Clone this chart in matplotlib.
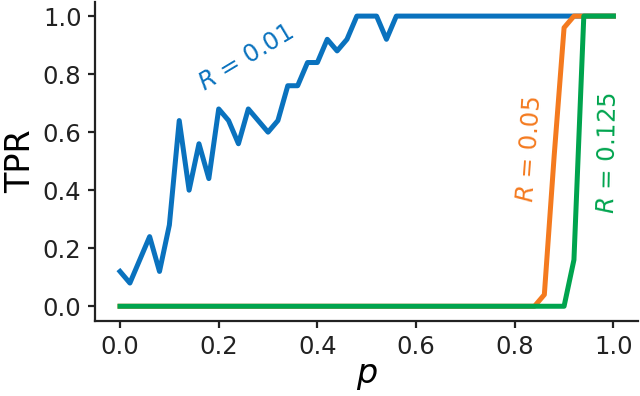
import numpy as np
import matplotlib
matplotlib.use("Agg")
import matplotlib.pyplot as plt

# p grid (step 0.02) and TPR for R = 0.01
p_blue = np.round(np.arange(0, 1.001, 0.02), 2)
tpr_blue = [0.12, 0.08, 0.16, 0.24, 0.12, 0.28, 0.64, 0.40, 0.56, 0.44,
            0.68, 0.64, 0.56, 0.68, 0.64, 0.60, 0.64, 0.76, 0.76, 0.84,
            0.84, 0.92, 0.88, 0.92, 1.00, 1.00, 1.00, 0.92, 1.00, 1.00,
            1.00, 1.00, 1.00, 1.00, 1.00, 1.00, 1.00, 1.00, 1.00, 1.00,
            1.00, 1.00, 1.00, 1.00, 1.00, 1.00, 1.00, 1.00, 1.00, 1.00,
            1.00]

# R = 0.05 and R = 0.125 (breakpoints only, flat elsewhere)
p_orange = [0.0, 0.84, 0.86, 0.88, 0.90, 0.92, 1.0]
tpr_orange = [0.0, 0.0, 0.04, 0.52, 0.96, 1.0, 1.0]
p_green = [0.0, 0.90, 0.92, 0.94, 1.0]
tpr_green = [0.0, 0.0, 0.16, 1.0, 1.0]

ticks = [0.0, 0.2, 0.4, 0.6, 0.8, 1.0]

blue = '#0A72BE'
orange = '#F47A1F'
green = '#00A44E'

plt.rcParams['mathtext.fontset'] = 'dejavusans'

fig = plt.figure(figsize=(6.4, 3.96), dpi=100)
ax = fig.add_axes([0.149, 0.19, 0.848, 0.806])

ax.plot(p_blue, tpr_blue, color=blue, lw=3.6)
ax.plot(p_orange, tpr_orange, color=orange, lw=3.6)
ax.plot(p_green, tpr_green, color=green, lw=3.6)

ax.text(0.255, 0.855, r'$R$ = 0.01', color=blue, fontsize=17.5,
        rotation=31, ha='center', va='center')
ax.text(0.83, 0.54, r'$R$ = 0.05', color=orange, fontsize=17.5,
        rotation=86, ha='center', va='center')
ax.text(0.99, 0.53, r'$R$ = 0.125', color=green, fontsize=17.5,
        rotation=89, ha='center', va='center')

ax.set_xlim(-0.05, 1.05)
ax.set_ylim(-0.05, 1.05)
ax.set_xticks(ticks)
ax.set_yticks(ticks)
ax.tick_params(labelsize=17.5, width=1.6, length=5, pad=5, colors='#222222')
ax.spines['top'].set_visible(False)
ax.spines['right'].set_visible(False)
for s in ['left', 'bottom']:
    ax.spines[s].set_linewidth(1.6)
    ax.spines[s].set_color('#222222')

ax.set_xlabel(r'$p$', fontsize=24, labelpad=0)
ax.set_ylabel('TPR', fontsize=24, labelpad=4)

fig.savefig("out.png", dpi=100)
